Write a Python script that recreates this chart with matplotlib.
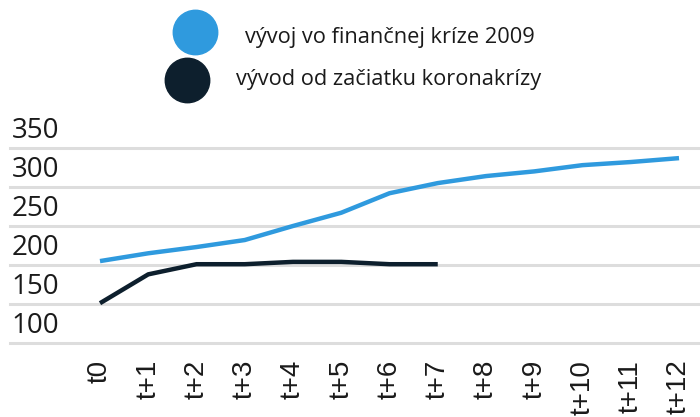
import matplotlib
matplotlib.use("Agg")
import matplotlib.pyplot as plt
from matplotlib.lines import Line2D
import numpy as np

periods = ["t0", "t+1", "t+2", "t+3", "t+4", "t+5", "t+6",
           "t+7", "t+8", "t+9", "t+10", "t+11", "t+12"]
crisis_2009 = [205, 215, 223, 232, 250, 267, 292, 305, 314, 320, 328, 332, 337]
corona = [151, 188, 201, 201, 204, 204, 201, 201]
y_ticks = [100, 150, 200, 250, 300, 350]

BLUE = "#2f9ade"
DARK = "#0d1f2d"
GRID = "#dddddd"

fig = plt.figure(figsize=(7.0, 4.17), dpi=100)
ax = fig.add_axes([0.0143, 0.1775, 0.9857, 0.4676])

x = np.arange(len(periods))
ax.plot(x, crisis_2009, color=BLUE, linewidth=3.2, solid_capstyle="butt", zorder=3)
ax.plot(x[:len(corona)], corona, color=DARK, linewidth=3.2, solid_capstyle="butt", zorder=4)

ax.set_xlim(-1.865, 12.435)
ax.set_ylim(100, 350)

for v in y_ticks:
    ax.axhline(v, color=GRID, linewidth=2.2, zorder=1, clip_on=False)
    ax.annotate(str(v), xy=(0, v), xycoords=("axes fraction", "data"),
                xytext=(1, 2.5), textcoords="offset points",
                ha="left", va="bottom", fontsize=20, family="Open Sans",
                color="#1a1a1a")

ax.set_yticks([])
ax.set_xticks(x)
ax.set_xticklabels(periods, rotation=90, fontsize=20, family="Liberation Sans",
                   color="#1a1a1a")
ax.tick_params(axis="x", length=0, pad=12)
for s in ax.spines.values():
    s.set_visible(False)

# legend drawn by hand at the top
fig.add_artist(Line2D([195 / 700], [1 - 32 / 417], marker="o", markersize=32,
                      color=BLUE, linestyle="none", transform=fig.transFigure))
fig.add_artist(Line2D([187 / 700], [1 - 80 / 417], marker="o", markersize=32,
                      color=DARK, linestyle="none", transform=fig.transFigure))
fig.text(245 / 700, 1 - 37 / 417, "vývoj vo finančnej kríze 2009", fontsize=15.7,
         family="Open Sans", va="center", ha="left", color="#1a1a1a")
fig.text(236 / 700, 1 - 80 / 417, "vývod od začiatku koronakrízy", fontsize=15.7,
         family="Open Sans", va="center", ha="left", color="#1a1a1a")

fig.savefig("out.png", dpi=100)
